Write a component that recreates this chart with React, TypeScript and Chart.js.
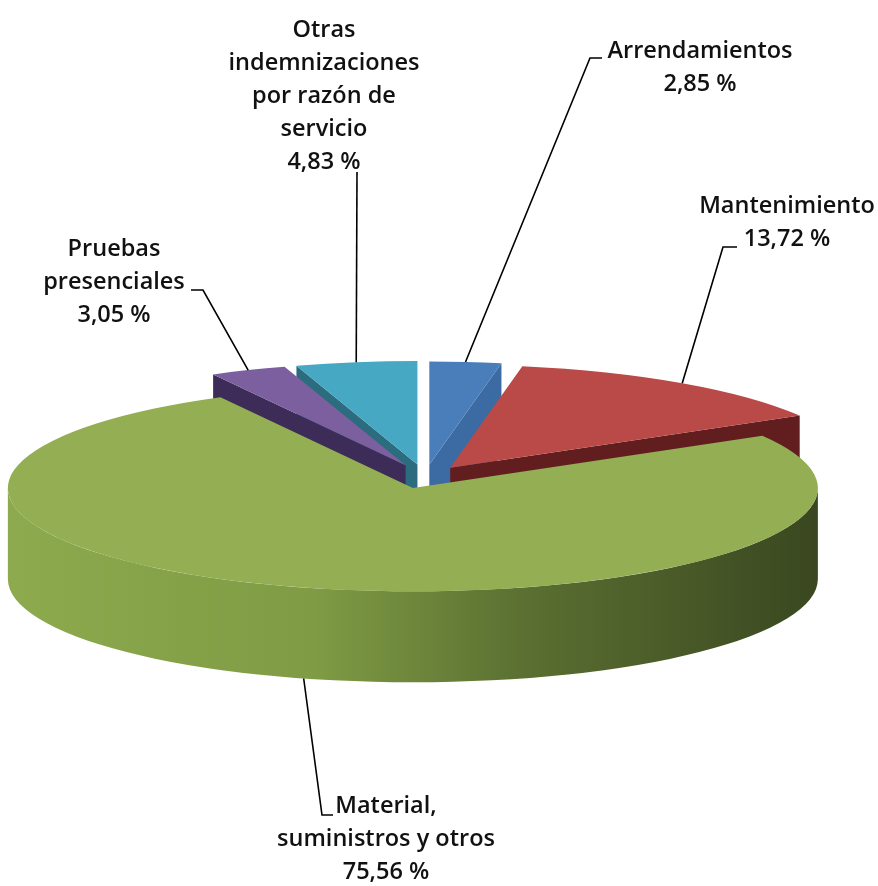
import React, { useEffect, useRef } from "react";
import { Chart, registerables } from "chart.js";

Chart.register(...registerables);

// ---------------- data ----------------
const categories = [
  "Arrendamientos",
  "Mantenimiento",
  "Material, suministros y otros",
  "Pruebas presenciales",
  "Otras indemnizaciones por razón de servicio",
];
const shares = [2.85, 13.72, 75.56, 3.05, 4.83];
const shareLabels = ["2,85 %", "13,72 %", "75,56 %", "3,05 %", "4,83 %"];
const nameLines = [
  ["Arrendamientos"],
  ["Mantenimiento"],
  ["Material,", "suministros y otros"],
  ["Pruebas", "presenciales"],
  ["Otras", "indemnizaciones", "por razón de", "servicio"],
];

// ---------------- styles / layout ----------------
const topColors = ["#4a7ebb", "#b94a48", "#93ae53", "#7c5f9f", "#47a8c3"];
const wallColors = ["#3c6aa2", "#621e1f", "#4a5e28", "#3d2b58", "#2b6c7e"];
const sideStops = [
  ["#4470a8", "#3a6296", "#2f5380", "#2c4e78"],
  ["#a84240", "#8a3432", "#6e2626", "#5a1b1b"],
  ["#8eaa4e", "#7f9b44", "#5a6f31", "#3a4720"],
  ["#6f5490", "#5b4478", "#483563", "#3a2850"],
  ["#3f97ad", "#347f92", "#2b6b7c", "#245e6e"],
];
const explode = [48, 44, 45, 50, 50];

const W = 878;
const H = 886;
const PIE_CX = 425;
const PIE_CY = 477;
const PIE_R = 405;
const TILT = 0.255;
const DEPTH = 91;

const labelBoxes = [
  { cx: 700, top: 33 },
  { cx: 787, top: 188 },
  { cx: 386, top: 788 },
  { cx: 114, top: 231 },
  { cx: 324, top: 12 },
];
const leaders = [
  [[590, 58], [602, 58]],
  [[723, 247], [737, 247]],
  [[322, 815], [333, 815]],
  [[203, 290], [191, 290]],
  [[357, 172], [357, 172]],
];

function frame(chart: any) {
  const a = chart.chartArea;
  const meta = chart.getDatasetMeta(0);
  const r = meta.data.length ? meta.data[0].outerRadius : 1;
  const bx = (a.left + a.right) / 2;
  const by = (a.top + a.bottom) / 2;
  const k = PIE_R / r;
  return { bx, by, k, r, depth: DEPTH / (k * TILT) };
}

const pie3d = {
  id: "pie3d",
  afterDatasetsUpdate(chart: any) {
    const f = frame(chart);
    const meta = chart.getDatasetMeta(0);
    meta.data.forEach((arc: any, i: number) => {
      const mid = (arc.startAngle + arc.endAngle) / 2;
      const e = explode[i] / f.k;
      arc.x = f.bx + Math.cos(mid) * e;
      arc.y = f.by + Math.sin(mid) * e;
    });
  },
  beforeDatasetsDraw(chart: any) {
    const ctx: CanvasRenderingContext2D = chart.ctx;
    const f = frame(chart);
    const arcs = chart.getDatasetMeta(0).data;
    ctx.save();
    ctx.translate(PIE_CX, PIE_CY);
    ctx.scale(f.k, f.k * TILT);
    ctx.translate(-f.bx, -f.by);
    const D = f.depth;
    // painter's order: slices further back first
    const order = arcs
      .map((arc: any, i: number) => ({ arc, i, depth: Math.sin((arc.startAngle + arc.endAngle) / 2) }))
      .sort((a: any, b: any) => a.depth - b.depth);
    order.forEach(({ arc, i }: any) => {
      const { x, y, startAngle: s, endAngle: e, outerRadius: r } = arc;
      const wall = (t: number) => {
        ctx.beginPath();
        ctx.moveTo(x, y);
        ctx.lineTo(x + r * Math.cos(t), y + r * Math.sin(t));
        ctx.lineTo(x + r * Math.cos(t), y + r * Math.sin(t) + D);
        ctx.lineTo(x, y + D);
        ctx.closePath();
        ctx.fillStyle = wallColors[i];
        ctx.fill();
      };
      if (Math.cos(s) < -1e-3) wall(s);
      if (Math.cos(e) > 1e-3) wall(e);
      // outer curved side (front half only)
      for (const off of [-2 * Math.PI, 0, 2 * Math.PI]) {
        const a0 = Math.max(s, off);
        const a1 = Math.min(e, off + Math.PI);
        if (a1 <= a0) continue;
        const g = ctx.createLinearGradient(x - r, 0, x + r, 0);
        g.addColorStop(0, sideStops[i][0]);
        g.addColorStop(0.38, sideStops[i][1]);
        g.addColorStop(0.64, sideStops[i][2]);
        g.addColorStop(1, sideStops[i][3]);
        ctx.beginPath();
        ctx.arc(x, y, r, a0, a1, false);
        ctx.arc(x, y + D, r, a1, a0, true);
        ctx.closePath();
        ctx.fillStyle = g;
        ctx.fill();
      }
    });
    // Chart.js now draws the top faces with this transform still active
  },
  afterDatasetsDraw(chart: any) {
    const ctx: CanvasRenderingContext2D = chart.ctx;
    ctx.restore();
    const f = frame(chart);
    const arcs = chart.getDatasetMeta(0).data;
    ctx.save();
    ctx.strokeStyle = "#000";
    ctx.lineWidth = 1.6;
    arcs.forEach((arc: any, i: number) => {
      const mid = (arc.startAngle + arc.endAngle) / 2;
      const px = arc.x + arc.outerRadius * Math.cos(mid);
      const py = arc.y + arc.outerRadius * Math.sin(mid);
      const X = PIE_CX + (px - f.bx) * f.k;
      let Y = PIE_CY + (py - f.by) * f.k * TILT;
      if (Math.sin(mid) > 0) Y += DEPTH;
      const [elbow, tick] = leaders[i];
      ctx.beginPath();
      ctx.moveTo(X, Y);
      ctx.lineTo(elbow[0], elbow[1]);
      ctx.lineTo(tick[0], tick[1]);
      ctx.stroke();
    });
    ctx.restore();
  },
};

export default function App() {
  const ref = useRef<HTMLCanvasElement | null>(null);
  useEffect(() => {
    if (!ref.current) return;
    const chart = new Chart(ref.current, {
      type: "pie",
      data: {
        labels: categories,
        datasets: [
          {
            data: shares,
            backgroundColor: topColors,
            borderWidth: 0,
            clip: false,
          } as any,
        ],
      },
      options: {
        responsive: false,
        animation: false,
        events: [],
        layout: { padding: 0 },
        plugins: { legend: { display: false }, tooltip: { enabled: false } },
      },
      plugins: [pie3d as any],
    });
    return () => chart.destroy();
  }, []);

  return (
    <div style={{ position: "absolute", left: 0, top: 0, width: W, height: H, background: "#fff", overflow: "hidden" }}>
      <canvas ref={ref} width={W} height={H} style={{ position: "absolute", left: 0, top: 0 }} />
      {nameLines.map((lines, i) => (
        <div
          key={i}
          style={{
            position: "absolute",
            left: labelBoxes[i].cx,
            top: labelBoxes[i].top,
            transform: "translateX(-50%)",
            textAlign: "center",
            whiteSpace: "nowrap",
            fontFamily: '"Open Sans", sans-serif',
            fontWeight: 600,
            fontSize: 23.5,
            lineHeight: "33px",
            color: "#111",
          }}
        >
          {lines.map((l) => (
            <div key={l}>{l}</div>
          ))}
          <div>{shareLabels[i]}</div>
        </div>
      ))}
    </div>
  );
}
